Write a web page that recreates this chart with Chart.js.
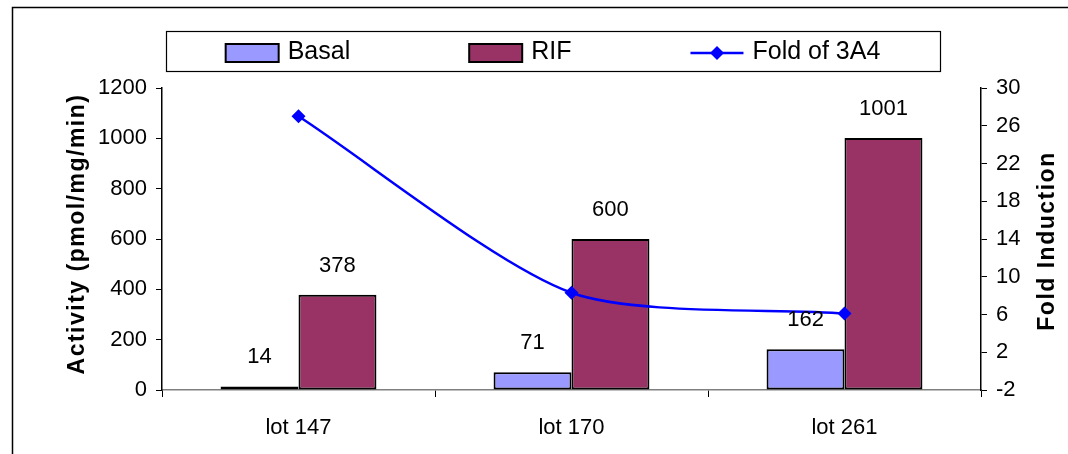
<!DOCTYPE html>
<html>
<head>
<meta charset="utf-8">
<script src="https://cdn.jsdelivr.net/npm/chart.js@4"></script>
<style>
  body { margin: 0; background: #fff; }
  canvas { display: block; }
</style>
</head>
<body>
<canvas id="chart" width="1068" height="454"></canvas>
<script>
var lots = ['lot 147', 'lot 170', 'lot 261'];
var basal = [14, 71, 162];
var rif = [378, 600, 1001];
var foldOf3A4 = [27, 8.3, 6.1];
var activityTicks = [0, 200, 400, 600, 800, 1000, 1200];
var foldTicks = [-2, 2, 6, 10, 14, 18, 22, 26, 30];

var FONT = '"Liberation Sans", Arial, sans-serif';

// cadre, étiquettes, légende et titres d'axes
var decor = {
    id: 'decor',
    beforeDraw: function (chart) {
        var ctx = chart.ctx;
        ctx.save();
        ctx.fillStyle = '#fff';
        ctx.fillRect(0, 0, chart.width, chart.height);
        ctx.strokeStyle = '#000';
        ctx.lineWidth = 1.5;
        ctx.beginPath();
        ctx.moveTo(12.5, chart.height);
        ctx.lineTo(12.5, 7.5);
        ctx.lineTo(chart.width, 7.5);
        ctx.stroke();
        ctx.restore();
    },
    afterDatasetsDraw: function (chart) {
        var ctx = chart.ctx;
        ctx.save();
        ctx.font = '22px ' + FONT;
        ctx.fillStyle = '#000';
        ctx.textAlign = 'center';
        ctx.textBaseline = 'alphabetic';
        [0, 1].forEach(function (di) {
            var meta = chart.getDatasetMeta(di);
            meta.data.forEach(function (bar, i) {
                ctx.fillText(String(chart.data.datasets[di].data[i]), bar.x, bar.y - 23);
            });
        });
        ctx.restore();
    },
    afterDraw: function (chart) {
        var ctx = chart.ctx;
        ctx.save();
        // légende
        ctx.strokeStyle = '#000';
        ctx.lineWidth = 1.2;
        ctx.strokeRect(166.5, 31.5, 774, 40);
        ctx.font = '25px ' + FONT;
        ctx.textBaseline = 'middle';
        ctx.textAlign = 'left';
        var items = chart.data.datasets;
        var boxW = 53, gap = 9, spacing = 119;
        var widths = items.map(function (d) { return boxW + gap + ctx.measureText(d.label).width; });
        var total = widths.reduce(function (a, b) { return a + b; }, 0) + spacing * (items.length - 1);
        var x = (166 + 940) / 2 - total / 2;
        items.forEach(function (d, i) {
            if (d.type === 'line') {
                ctx.strokeStyle = d.borderColor;
                ctx.lineWidth = 2.5;
                ctx.beginPath();
                ctx.moveTo(x, 53);
                ctx.lineTo(x + boxW, 53);
                ctx.stroke();
                ctx.fillStyle = d.borderColor;
                var cx = x + boxW / 2;
                ctx.beginPath();
                ctx.moveTo(cx, 46); ctx.lineTo(cx + 7, 53); ctx.lineTo(cx, 60); ctx.lineTo(cx - 7, 53);
                ctx.closePath();
                ctx.fill();
            } else {
                ctx.fillStyle = d.backgroundColor;
                ctx.fillRect(x, 44, boxW, 18);
                ctx.strokeStyle = '#000';
                ctx.lineWidth = 2;
                ctx.strokeRect(x, 44, boxW, 18);
            }
            ctx.fillStyle = '#000';
            ctx.fillText(d.label, x + boxW + gap, 52);
            x += widths[i] + spacing;
        });
        // titres d'axes
        ctx.font = 'bold 23px ' + FONT;
        ctx.letterSpacing = '1.5px';
        ctx.textAlign = 'center';
        ctx.fillStyle = '#000';
        ctx.save();
        ctx.translate(78, 234);
        ctx.rotate(-Math.PI / 2);
        ctx.fillText('Activity (pmol/mg/min)', 0, 0);
        ctx.restore();
        ctx.save();
        ctx.translate(1048, 241);
        ctx.rotate(-Math.PI / 2);
        ctx.fillText('Fold Induction', 0, 0);
        ctx.restore();
        ctx.restore();
    }
};

var ctx = document.getElementById('chart').getContext('2d');
new Chart(ctx, {
    data: {
        labels: lots,
        datasets: [
            { type: 'bar', label: 'Basal', data: basal, backgroundColor: '#9999FF', borderColor: '#000', borderWidth: 2, borderSkipped: false, yAxisID: 'y', order: 1 },
            { type: 'bar', label: 'RIF', data: rif, backgroundColor: '#993366', borderColor: '#000', borderWidth: 2, borderSkipped: false, yAxisID: 'y', order: 1 },
            { type: 'line', label: 'Fold of 3A4', data: foldOf3A4, borderColor: '#0000FF', backgroundColor: '#0000FF', borderWidth: 2.5,
              tension: 0.25, pointStyle: 'rectRot', pointRadius: 7, pointBackgroundColor: '#0000FF', pointBorderWidth: 0, yAxisID: 'y1', order: 0 }
        ]
    },
    options: {
        responsive: false,
        animation: false,
        layout: { padding: { top: 88, left: 0, right: 0, bottom: 0 } },
        datasets: { bar: { categoryPercentage: 0.571, barPercentage: 1.0 } },
        scales: {
            x: {
                offset: true,
                grid: { drawOnChartArea: false, drawTicks: true, tickLength: 7, color: '#000', offset: true },
                border: { color: '#808080', width: 1.5 },
                ticks: { color: '#000', font: { size: 22, family: FONT }, padding: 18 },
                afterFit: function (s) { s.height = 64; }
            },
            y: {
                position: 'left',
                min: 0, max: 1200,
                grid: { drawOnChartArea: false, tickLength: 6, color: '#000' },
                border: { color: '#000', width: 1.5 },
                ticks: { color: '#000', font: { size: 22, family: FONT }, padding: 9,
                         callback: function (v) { return String(v); } },
                afterBuildTicks: function (s) { s.ticks = activityTicks.map(function (v) { return { value: v }; }); },
                afterFit: function (s) { s.width = 162; }
            },
            y1: {
                position: 'right',
                min: -2, max: 30,
                grid: { drawOnChartArea: false, tickLength: 6, color: '#000' },
                border: { color: '#000', width: 1.5 },
                ticks: { color: '#000', font: { size: 22, family: FONT }, padding: 9,
                         callback: function (v) { return String(v); } },
                afterBuildTicks: function (s) { s.ticks = foldTicks.map(function (v) { return { value: v }; }); },
                afterFit: function (s) { s.width = 87; }
            }
        },
        plugins: {
            legend: { display: false },
            tooltip: { enabled: false }
        }
    },
    plugins: [decor]
});
</script>
</body>
</html>
